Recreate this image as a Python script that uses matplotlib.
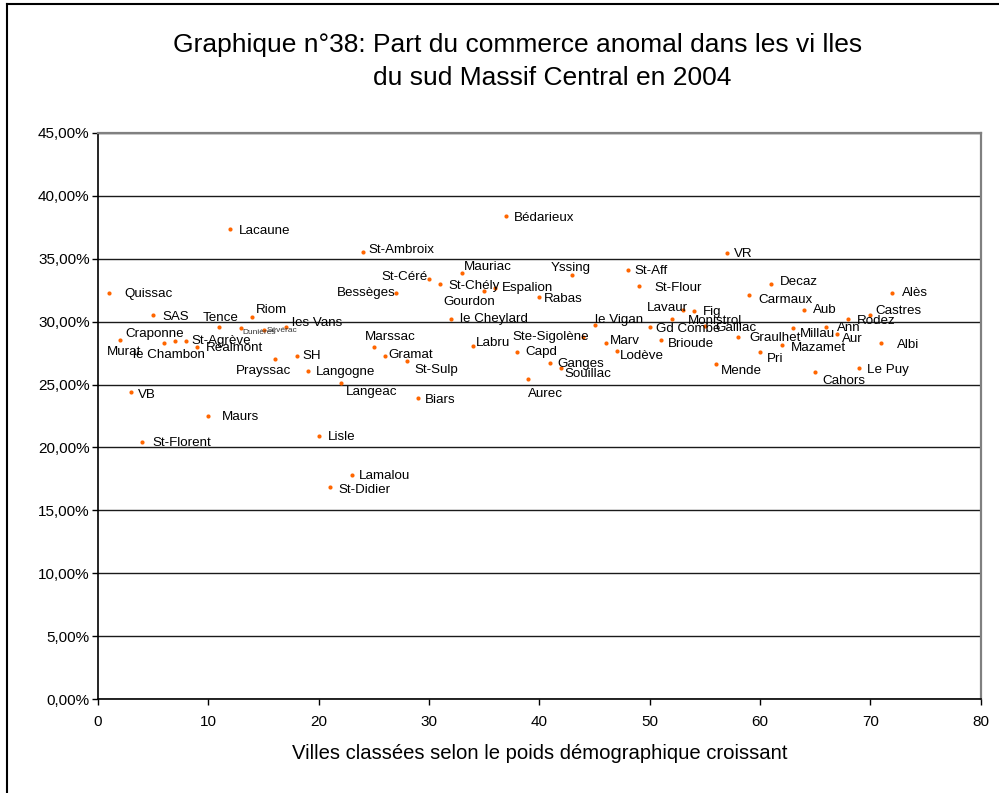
import matplotlib
matplotlib.use("Agg")
import matplotlib.pyplot as plt
from matplotlib.ticker import FuncFormatter, MultipleLocator
from matplotlib.lines import Line2D

plt.rcParams['font.family'] = ['Liberation Sans', 'DejaVu Sans']

# ---- data ----
towns = ["Quissac", "Craponne", "VB", "St-Florent", "SAS", "Murat", "le Chambon",
         "St-Agrève", "Réalmont", "Maurs", "Tence", "Lacaune", "Dunières", "Riom",
         "Sévérac", "Prayssac", "les Vans", "SH", "Langogne", "Lisle", "St-Didier",
         "Langeac", "Lamalou", "St-Ambroix", "Marssac", "Gramat", "Bessèges",
         "St-Sulp", "Biars", "St-Céré", "St-Chély", "le Cheylard", "Mauriac",
         "Labru", "Gourdon", "Espalion", "Bédarieux", "Capd", "Aurec", "Rabas",
         "Ganges", "Souillac", "Yssing", "Ste-Sigolène", "le Vigan", "Marv",
         "Lodève", "St-Aff", "St-Flour", "Gd Combe", "Brioude", "Monistrol",
         "Lavaur", "Fig", "Gaillac", "Mende", "VR", "Graulhet", "Carmaux", "Pri",
         "Decaz", "Mazamet", "Millau", "Aub", "Cahors", "Ann", "Aur", "Rodez",
         "Le Puy", "Castres", "Albi", "Alès"]
rank = list(range(1, 73))
share_pct = [32.3, 28.5, 24.4, 20.45, 30.55, 28.3, 28.45, 28.45, 28.0, 22.5,
             29.6, 37.35, 29.5, 30.35, 29.3, 27.0, 29.6, 27.3, 26.1, 20.9, 16.9,
             25.1, 17.8, 35.5, 28.0, 27.3, 32.3, 26.85, 23.9, 33.4, 33.0, 30.2,
             33.85, 28.05, 32.4, 32.7, 38.4, 27.6, 25.4, 31.95, 26.7, 26.3, 33.7,
             28.8, 29.75, 28.3, 27.7, 34.1, 32.8, 29.6, 28.5, 30.2, 30.95, 30.8,
             29.65, 26.6, 35.45, 28.75, 32.1, 27.6, 33.0, 28.15, 29.5, 30.9, 26.0,
             29.6, 29.0, 30.2, 26.3, 30.5, 28.3, 32.3]
x_ticks = [0, 10, 20, 30, 40, 50, 60, 70, 80]

title_line1 = "Graphique n°38: Part du commerce anomal dans les vi lles"
title_line2 = "du sud Massif Central en 2004"
x_label = "Villes classées selon le poids démographique croissant"

# ---- label placement (pixels: dx right, dy down, alignment) ----
default_off = (8, 1, 'left')
label_off = {
    "Quissac": (15, 1, 'left'), "SAS": (9, 2, 'left'), "Tence": (1, -9, 'center'),
    "Riom": (3, -7, 'left'), "Dunières": (1, 5, 'left'), "Sévérac": (3, 0, 'left'),
    "les Vans": (6, -4, 'left'), "Craponne": (5, -6, 'left'),
    "Murat": (-57, 9, 'left'), "le Chambon": (-42, 14, 'left'),
    "St-Agrève": (5, 0, 'left'), "Réalmont": (9, 1, 'left'),
    "Prayssac": (17, 12, 'right'), "SH": (6, 0, 'left'), "Langogne": (8, 1, 'left'),
    "VB": (7, 3, 'left'), "Maurs": (14, 1, 'left'), "St-Florent": (10, 1, 'left'),
    "Langeac": (5, 9, 'left'), "Lisle": (9, 1, 'left'), "Lamalou": (7, 1, 'left'),
    "St-Didier": (9, 3, 'left'), "Lacaune": (8, 2, 'left'),
    "St-Ambroix": (6, -2, 'left'), "St-Céré": (-1, -2, 'right'),
    "Bessèges": (0, 0, 'right'), "Bédarieux": (8, 2, 'left'),
    "Mauriac": (2, -6, 'left'), "St-Chély": (8, 2, 'left'),
    "Gourdon": (11, 11, 'right'), "Espalion": (7, 0, 'left'),
    "Rabas": (5, 2, 'left'), "Yssing": (18, -7, 'right'), "St-Aff": (7, 1, 'left'),
    "St-Flour": (16, 2, 'left'), "le Cheylard": (9, 0, 'left'),
    "Marssac": (-9, -10, 'left'), "Gramat": (3, -1, 'left'),
    "St-Sulp": (7, 9, 'left'), "Biars": (7, 2, 'left'), "Labru": (3, -3, 'left'),
    "Capd": (8, 0, 'left'), "Aurec": (0, 15, 'left'),
    "Ste-Sigolène": (6, 0, 'right'), "Ganges": (7, 1, 'left'),
    "Souillac": (3, 6, 'left'), "le Vigan": (0, -5, 'left'),
    "Marv": (4, -2, 'left'), "Lodève": (3, 5, 'left'), "Gd Combe": (6, 2, 'left'),
    "Brioude": (7, 4, 'left'), "Lavaur": (5, -2, 'right'),
    "Monistrol": (16, 2, 'left'), "Fig": (9, 1, 'left'), "Gaillac": (11, 2, 'left'),
    "Mende": (5, 7, 'left'), "Graulhet": (11, 1, 'left'), "Pri": (7, 7, 'left'),
    "Carmaux": (9, 5, 'left'), "Decaz": (9, -2, 'left'), "VR": (7, 1, 'left'),
    "Aub": (9, 0, 'left'), "Millau": (7, 6, 'left'), "Mazamet": (9, 3, 'left'),
    "Ann": (11, 1, 'left'), "Aur": (5, 5, 'left'), "Rodez": (9, 2, 'left'),
    "Castres": (5, -4, 'left'), "Alès": (10, 0, 'left'), "Albi": (16, 2, 'left'),
    "Le Puy": (8, 2, 'left'), "Cahors": (7, 9, 'left'),
}
small_labels = {"Dunières", "Sévérac"}

W, H = 999, 793
fig = plt.figure(figsize=(W / 100, H / 100), dpi=100)
fig.patch.set_facecolor('white')

left, right, top, bottom = 98, 980.7, 132.7, 699.3
ax = fig.add_axes([left / W, 1 - bottom / H, (right - left) / W, (bottom - top) / H])

ax.set_xlim(0, 80)
ax.set_ylim(0, 45)
ax.yaxis.set_major_locator(MultipleLocator(5))
ax.set_xticks(x_ticks)
ax.yaxis.set_major_formatter(FuncFormatter(lambda v, p: f"{v:.2f}%".replace('.', ',')))
ax.grid(axis='y', color='#1a1a1a', linewidth=1.0)
ax.set_axisbelow(True)

for s in ['left', 'bottom']:
    ax.spines[s].set_color('black')
    ax.spines[s].set_linewidth(1.2)
for s in ['top', 'right']:
    ax.spines[s].set_color('#808080')
    ax.spines[s].set_linewidth(1.6)

ax.tick_params(axis='both', direction='out', length=4, width=1, color='black',
               labelsize=11, labelcolor='black')
ax.tick_params(axis='y', pad=2)
ax.tick_params(axis='x', pad=7)

ax.scatter(rank, share_pct, s=9, color='#FF6600', zorder=3, linewidths=0)

for name, xv, yv in zip(towns, rank, share_pct):
    dx, dy, ha = label_off.get(name, default_off)
    fs = 6 if name in small_labels else 9.6
    col = '#333333' if name in small_labels else 'black'
    ax.annotate(name, (xv, yv), xytext=(dx, -dy), textcoords='offset pixels',
                ha=ha, va='center', fontsize=fs, color=col, zorder=4)

ax.set_xlabel(x_label, fontsize=14.6, labelpad=11)

fig.text(518 / W, 1 - 45 / H, title_line1, ha='center', va='center', fontsize=19)
fig.text(552 / W, 1 - 78 / H, title_line2, ha='center', va='center', fontsize=19)

# outer chart-area border (left and top edges visible)
fig.add_artist(Line2D([7 / W, 7 / W], [0, 1 - 4 / H], transform=fig.transFigure,
                      color='black', linewidth=1.5))
fig.add_artist(Line2D([7 / W, 1], [1 - 4 / H, 1 - 4 / H], transform=fig.transFigure,
                      color='black', linewidth=1.5))

fig.savefig("out.png", dpi=100)
